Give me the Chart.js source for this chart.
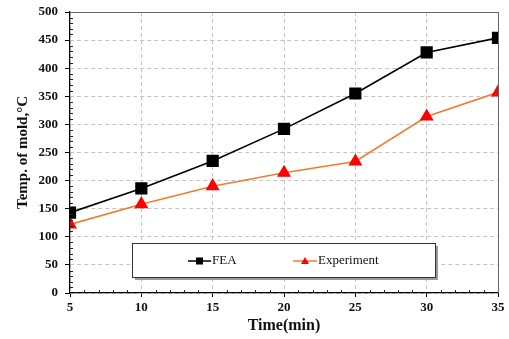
<!DOCTYPE html>
<html>
<head>
<meta charset="utf-8">
<script src="https://cdn.jsdelivr.net/npm/chart.js@4/dist/chart.umd.min.js"></script>
<style>
  html, body { margin: 0; padding: 0; background: #fff; }
  #wrap { width: 509px; height: 339px; }
</style>
</head>
<body>
<div id="wrap"><canvas id="c" width="509" height="339"></canvas></div>
<script>
// time (min)
const times = [5, 10, 15, 20, 25, 30, 35];
const feaTemp = [143, 186, 235, 292, 355, 428, 454];
const expTemp = [122, 158, 190, 214, 234, 314, 357];

const serif = '"Liberation Serif", "Times New Roman", serif';

const toPoints = (ys) => times.map((t, i) => ({ x: t, y: ys[i] }));

// minor ticks, frame and the boxed legend inside the plot
const decorations = {
  id: 'decorations',
  afterDatasetsDraw(chart) {
    const { ctx, chartArea: a, scales: { x, y } } = chart;
    ctx.save();
    ctx.strokeStyle = '#222';
    ctx.lineWidth = 1;
    ctx.beginPath();
    for (let v = 10; v < 500; v += 10) {
      if (v % 50 === 0) continue;
      const py = Math.round(y.getPixelForValue(v)) + 0.5;
      ctx.moveTo(a.left, py);
      ctx.lineTo(a.left + 3, py);
    }
    for (let t = 6; t < 35; t++) {
      if (t % 5 === 0) continue;
      const px = Math.round(x.getPixelForValue(t)) + 0.5;
      ctx.moveTo(px, a.bottom);
      ctx.lineTo(px, a.bottom - 3);
    }
    ctx.stroke();

    // top & right frame
    ctx.strokeStyle = '#666';
    ctx.beginPath();
    ctx.moveTo(a.left, a.top + 0.5);
    ctx.lineTo(a.right + 0.5, a.top + 0.5);
    ctx.lineTo(a.right + 0.5, a.bottom);
    ctx.stroke();

    // legend box
    const bx = 132, by = 243, bw = 303, bh = 34;
    ctx.fillStyle = '#9a9a9a';
    ctx.fillRect(bx + 3, by + 3, bw, bh);
    ctx.fillStyle = '#fff';
    ctx.fillRect(bx, by, bw, bh);
    ctx.strokeStyle = '#333';
    ctx.strokeRect(bx + 0.5, by + 0.5, bw, bh);

    const ly = by + 18;
    ctx.lineWidth = 1.5;
    ctx.strokeStyle = '#000';
    ctx.beginPath();
    ctx.moveTo(188, ly); ctx.lineTo(211, ly);
    ctx.stroke();
    ctx.fillStyle = '#000';
    ctx.fillRect(196, ly - 3.5, 7, 7);

    ctx.strokeStyle = '#ED7D31';
    ctx.beginPath();
    ctx.moveTo(293, ly); ctx.lineTo(317, ly);
    ctx.stroke();
    ctx.fillStyle = '#FF0000';
    ctx.beginPath();
    ctx.moveTo(305, ly - 4); ctx.lineTo(309, ly + 3); ctx.lineTo(301, ly + 3);
    ctx.closePath();
    ctx.fill();

    ctx.fillStyle = '#111';
    ctx.font = '13px ' + serif;
    ctx.textBaseline = 'middle';
    ctx.fillText('FEA', 212, ly);
    ctx.fillText('Experiment', 318, ly);
    ctx.restore();
  }
};

new Chart(document.getElementById('c'), {
  type: 'line',
  data: {
    datasets: [
      {
        label: 'FEA',
        data: toPoints(feaTemp),
        borderColor: '#000',
        backgroundColor: '#000',
        borderWidth: 1.6,
        pointStyle: 'rect',
        pointRadius: 7.5,
        pointHoverRadius: 7.5,
        tension: 0
      },
      {
        label: 'Experiment',
        data: toPoints(expTemp),
        borderColor: '#ED7D31',
        backgroundColor: '#FF0000',
        pointBorderColor: '#FF0000',
        borderWidth: 1.6,
        pointStyle: 'triangle',
        pointRadius: 6.5,
        pointHoverRadius: 6.5,
        tension: 0
      }
    ]
  },
  options: {
    responsive: false,
    animation: false,
    layout: { padding: { left: 0, right: 11, top: 12, bottom: 0 } },
    plugins: { legend: { display: false }, tooltip: { enabled: false } },
    scales: {
      x: {
        type: 'linear',
        min: 5,
        max: 35,
        afterFit: (s) => { s.height = 46; },
        ticks: {
          stepSize: 5,
          color: '#111',
          padding: 3,
          font: { family: serif, size: 13, weight: 'bold' }
        },
        grid: {
          color: '#c4c4c4',
          tickColor: '#000',
          tickLength: 4
        },
        border: { color: '#000', width: 1.2, dash: [4, 3] },
        title: {
          display: true,
          text: 'Time(min)',
          color: '#111',
          padding: { top: 0, bottom: 4 },
          font: { family: serif, size: 16, weight: 'bold' }
        }
      },
      y: {
        min: 0,
        max: 500,
        afterFit: (s) => { s.width = 70; s.paddingTop = 0; s.paddingBottom = 0; },
        ticks: {
          stepSize: 50,
          color: '#111',
          padding: 7,
          font: { family: serif, size: 13, weight: 'bold' }
        },
        grid: {
          color: '#c4c4c4',
          tickColor: '#000',
          tickLength: 5
        },
        border: { color: '#000', width: 1.2, dash: [4, 3] },
        title: {
          display: true,
          text: 'Temp. of mold,°C',
          color: '#111',
          padding: { top: 14, bottom: 0 },
          font: { family: serif, size: 15, weight: 'bold' }
        }
      }
    }
  },
  plugins: [decorations]
});
</script>
</body>
</html>
